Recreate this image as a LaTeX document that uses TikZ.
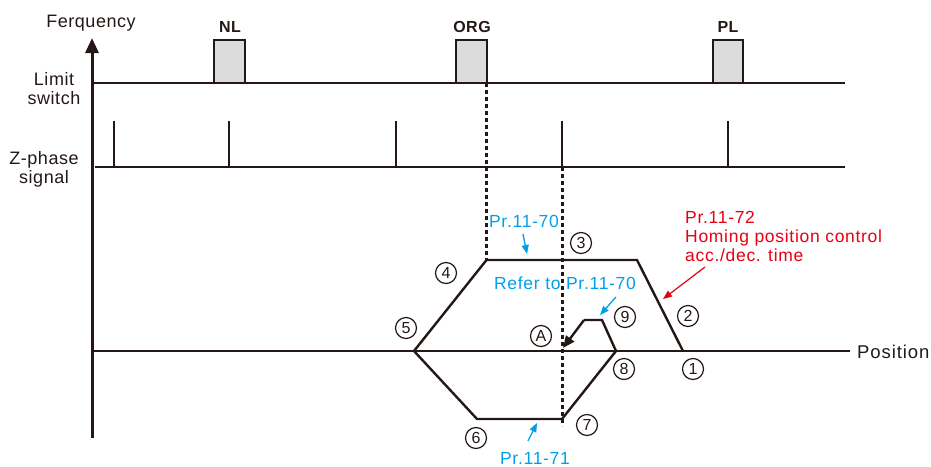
\documentclass[tikz,border=0pt]{standalone}
\usepackage{fontspec}
\setmainfont{Liberation Sans}
\usetikzlibrary{arrows.meta}
\definecolor{ink}{HTML}{231815}
\definecolor{pblue}{HTML}{00A0E9}
\definecolor{pred}{HTML}{E60012}
\definecolor{boxgray}{HTML}{DCDCDC}
\begin{document}
\begin{tikzpicture}[x=1pt,y=-1pt,
  line/.style={draw=ink,line width=2pt},
  profile/.style={draw=ink,line width=2.4pt,line join=miter},
  axisline/.style={draw=ink,line width=3pt},
  dashline/.style={draw=ink,line width=3pt,dash pattern=on 4pt off 3pt},
  swbox/.style={draw=ink,line width=2pt,fill=boxgray},
  pulse/.style={draw=ink,line width=2.4pt},
  lbl/.style={inner sep=0pt,text=ink,font=\fontsize{18}{19}\selectfont\addfontfeature{LetterSpace=3}},
  poslbl/.style={inner sep=0pt,text=ink,font=\fontsize{18.5}{19}\selectfont\addfontfeature{LetterSpace=5}},
  boldlbl/.style={inner sep=0pt,text=ink,font=\bfseries\fontsize{16}{18}\selectfont\addfontfeature{LetterSpace=3}},
  circnum/.style={circle,draw=ink,line width=1.2pt,minimum size=21pt,inner sep=0pt,text=ink,font=\fontsize{16}{18}\selectfont},
  bluetxt/.style={inner sep=0pt,text=pblue,font=\fontsize{17.5}{19}\selectfont\addfontfeature{LetterSpace=4}},
  redtxt/.style={inner sep=0pt,text=pred,align=left,font=\fontsize{17.5}{19}\selectfont\addfontfeature{LetterSpace=4}},
  bluearr/.style={draw=pblue,line width=1.3pt,-{Triangle[width=7pt,length=9pt]}},
  redarr/.style={draw=pred,line width=1.2pt,-{Triangle[width=7pt,length=9pt]}},
]
\useasboundingbox (0,0) rectangle (931,466);

% coordinates
\coordinate (axbot) at (92,438);
\coordinate (axtop) at (92,38);
\coordinate (lsL) at (92,83);
\coordinate (lsR) at (845,83);
\coordinate (zL) at (95,167);
\coordinate (zR) at (845,167);
\coordinate (posL) at (92,351);
\coordinate (posR) at (850,351);

% limit switch boxes
\draw[swbox] (214,83) rectangle (245,40);
\draw[swbox] (456,83) rectangle (487,40);
\draw[swbox] (713,83) rectangle (743,40);
\node[boldlbl,anchor=base] (nl) at (230,32) {NL};
\node[boldlbl,anchor=base] (org) at (472,32) {ORG};
\node[boldlbl,anchor=base] (pl) at (728,32) {PL};

% lines
\draw[line] (lsL) -- (lsR);
\draw[line] (zL) -- (zR);
\draw[line] (posL) -- (posR);
\draw[axisline,-{Triangle[width=13pt,length=15pt]}] (axbot) -- (axtop);

% Z pulses
\foreach \px/\nm in {114/za,229/zb,396/zc,562/zd,728/ze}{
  \coordinate (\nm t) at (\px,121);
  \coordinate (\nm b) at (\px,167);
  \draw[pulse] (\nm b) -- (\nm t);
}

% left labels
\node[lbl,anchor=base] (freq) at (91,27) {Ferquency};
\node[lbl,anchor=base,align=center] (limsw) at (54,104) {Limit\\switch};
\node[lbl,anchor=base,align=center] (zph) at (44,183) {Z-phase\\signal};
\node[poslbl,anchor=base west] (pos) at (857,358) {Position};

% profile
\coordinate (p5) at (414,351);
\coordinate (u1) at (486.5,260);
\coordinate (u2) at (637,260);
\coordinate (p1) at (683,351);
\coordinate (l1) at (477,419);
\coordinate (l2) at (562,419);
\coordinate (p8) at (616,351);
\coordinate (b1) at (602,320);
\coordinate (b2) at (584,320);
\coordinate (pA) at (563,348);
\draw[profile] (p5) -- (u1) -- (u2) -- (p1);
\draw[profile] (p5) -- (l1) -- (l2) -- (p8) -- (b1) -- (b2);
\draw[profile,-{Triangle[width=10pt,length=12pt]}] (b2) -- (pA);

% dashed verticals
\coordinate (d1t) at (486.5,83);
\coordinate (d2t) at (562,167);
\coordinate (d2b) at (562,426);
\draw[dashline] (d1t) -- (u1);
\draw[dashline] (d2t) -- (d2b);

% circled numbers
\node[circnum] (c1) at (693,369) {1};
\node[circnum] (c2) at (688,316) {2};
\node[circnum] (c3) at (581,243) {3};
\node[circnum] (c4) at (446,273) {4};
\node[circnum] (c5) at (406,328) {5};
\node[circnum] (c6) at (476,438) {6};
\node[circnum] (c7) at (587,425) {7};
\node[circnum] (c8) at (624,369) {8};
\node[circnum] (c9) at (625,317) {9};
\node[circnum] (cA) at (541,336) {A};

% blue annotations
\node[bluetxt,anchor=base] (t70) at (524,227) {Pr.11-70};
\coordinate (a70s) at (523,234);
\coordinate (a70e) at (527,254);
\draw[bluearr] (a70s) -- (a70e);
\node[bluetxt,anchor=base] (ref70) at (565,289) {Refer to Pr.11-70};
\coordinate (arfs) at (616,297);
\coordinate (arfe) at (600,315);
\draw[bluearr] (arfs) -- (arfe);
\node[bluetxt,anchor=base] (t71) at (535,464) {Pr.11-71};
\coordinate (a71s) at (528,441);
\coordinate (a71e) at (537,423);
\draw[bluearr] (a71s) -- (a71e);

% red annotation
\node[redtxt,anchor=base west] (t72) at (685,261) {Pr.11-72\\Homing position control\\acc./dec. time};
\coordinate (a72s) at (705,267);
\coordinate (a72e) at (663,299);
\draw[redarr] (a72s) -- (a72e);
\end{tikzpicture}
\end{document}
